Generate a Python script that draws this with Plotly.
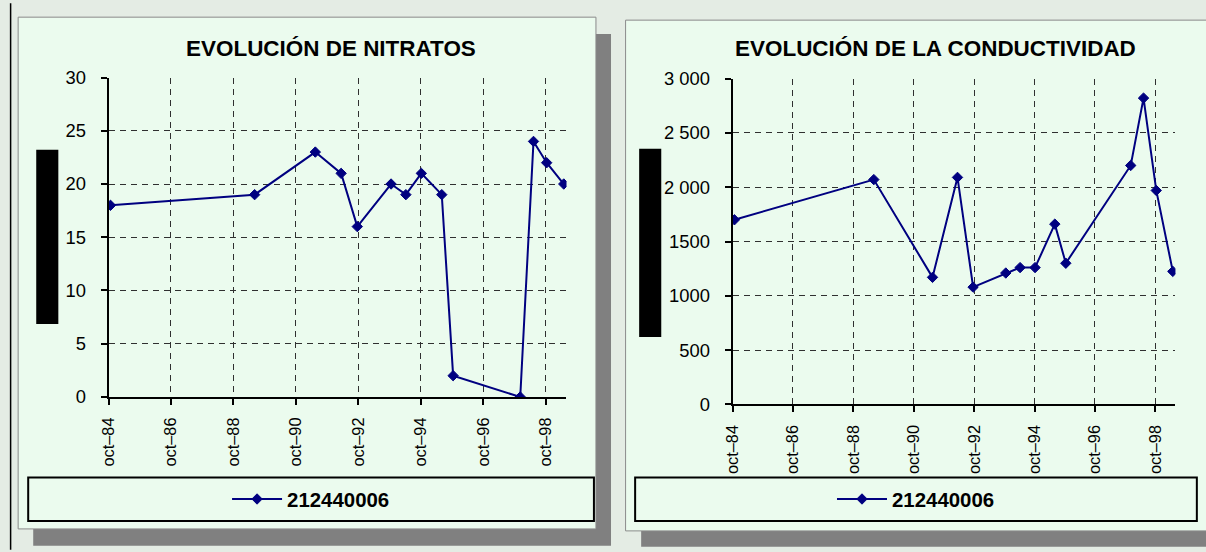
import plotly.graph_objects as go

W, H = 1206, 552

# Layout positions below are written in screen pixels of the final page view.
# The page adds an 8px body margin around the figure and the whole page view
# (figure + margins) is fitted back into W x H, so screen pixels are mapped to
# figure pixels before being turned into paper coordinates.
MARGIN = 8
SX = W / (W + 2 * MARGIN)
SY = H / (H + 2 * MARGIN)
FS = (SX + SY) / 2

# Sampling dates shared by both series (station 212440006)
fechas = ["1984-10-23", "1989-06-05", "1991-05-16", "1992-03-13", "1992-09-18",
          "1993-10-18", "1994-04-09", "1994-10-07", "1995-06-03", "1995-10-14",
          "1997-12-07", "1998-05-11", "1998-10-12", "1999-04-30"]
nitratos = [18, 19, 23, 21, 16, 20, 19, 21, 19, 2, 0, 24, 22, 20]
conductividad = [1700, 2070, 1170, 2090, 1080, 1210, 1260, 1260, 1660, 1300,
                 2200, 2820, 1970, 1225]
estacion = "212440006"

titulo_nitratos = "EVOLUCIÓN DE NITRATOS"
titulo_conductividad = "EVOLUCIÓN DE LA CONDUCTIVIDAD"

x_tickvals = ["1984-10-01", "1986-10-01", "1988-10-01", "1990-10-01",
              "1992-10-01", "1994-10-01", "1996-10-01", "1998-10-01"]
x_ticktext = ["oct–84", "oct–86", "oct–88", "oct–90",
              "oct–92", "oct–94", "oct–96", "oct–98"]
x_range = ["1984-10-01", "1999-06-01"]

y1_tickvals = [0, 5, 10, 15, 20, 25, 30]
y1_ticktext = ["0", "5", "10", "15", "20", "25", "30"]
y2_tickvals = [0, 500, 1000, 1500, 2000, 2500, 3000]
y2_ticktext = ["0", "500", "1000", "1500", "2 000", "2 500", "3 000"]

FONT = "Liberation Sans, Arial, sans-serif"
NAVY = "#000080"
OUTER_BG = "#e4ece4"
PANEL_BG = "#ebfbee"
SHADOW = "#808080"


def px(v):
    return (v / SX - MARGIN) / W


def py(v):
    return 1 - (v / SY - MARGIN) / H


def sz(v):
    return v / FS


def rect(x0, y0, x1, y1, fill, line_color=None, line_width=0):
    return dict(type="rect", xref="paper", yref="paper",
                x0=px(x0), x1=px(x1), y0=py(y1), y1=py(y0),
                fillcolor=fill, layer="below",
                line=dict(color=line_color or fill, width=line_width))


def line(x0, y0, x1, y1, color="black", width=1):
    return dict(type="line", xref="paper", yref="paper",
                x0=px(x0), x1=px(x1), y0=py(y0), y1=py(y1), layer="below",
                line=dict(color=color, width=width))


fig = go.Figure()

marker = dict(symbol="diamond", size=8, color=NAVY, line=dict(color=NAVY, width=1))
fig.add_trace(go.Scatter(x=fechas, y=nitratos, mode="lines+markers",
                         line=dict(color=NAVY, width=2), marker=marker,
                         name=estacion, xaxis="x", yaxis="y", legend="legend"))
fig.add_trace(go.Scatter(x=fechas, y=conductividad, mode="lines+markers",
                         line=dict(color=NAVY, width=2), marker=marker,
                         name=estacion, xaxis="x2", yaxis="y2", legend="legend2"))

grid = dict(showgrid=True, gridcolor="#303030", gridwidth=1, griddash="6px,5px")
xaxis_common = dict(
    type="date", range=x_range, tickmode="array",
    tickvals=x_tickvals, ticktext=x_ticktext, tickangle=-90,
    showline=True, linecolor="black", linewidth=2,
    ticks="outside", ticklen=6, tickwidth=1.5, tickcolor="black",
    ticklabelstandoff=6, zeroline=False, fixedrange=True,
    tickfont=dict(family=FONT, size=sz(16), color="black"), **grid,
)
yaxis_common = dict(
    showline=True, linecolor="black", linewidth=2,
    ticks="outside", ticklen=6, tickwidth=1.5, tickcolor="black",
    ticklabelstandoff=11, zeroline=False, fixedrange=True, tickmode="array",
    tickfont=dict(family=FONT, size=sz(18), color="black"), **grid,
)

shapes = [
    # outer frame line on the left
    line(8.5, 0, 8.5, H, "black", 1.5),
    # left panel: shadow, face, legend box, axis-title block
    rect(31, 31, 606, 548, SHADOW),
    rect(16, 14, 591, 531, PANEL_BG, "#8a8a8a", 1),
    rect(26, 479, 589, 523, PANEL_BG, "black", 2),
    rect(34, 148, 56, 324, "black"),
    # right panel
    rect(636, 33, 1240, 549, SHADOW),
    rect(620.5, 17, 1205, 533, PANEL_BG, "#8a8a8a", 1),
    rect(630, 479, 1189, 523, PANEL_BG, "black", 2),
    rect(634, 147, 656, 337, "black"),
]

annotations = [
    dict(text=titulo_nitratos, x=px(327), y=py(46), xref="paper", yref="paper",
         showarrow=False, xanchor="center", yanchor="middle",
         font=dict(family=FONT, size=sz(22), color="black", weight="bold")),
    dict(text=titulo_conductividad, x=px(928.6), y=py(46), xref="paper", yref="paper",
         showarrow=False, xanchor="center", yanchor="middle",
         font=dict(family=FONT, size=sz(22), color="black", weight="bold")),
]

legend_common = dict(orientation="h", xanchor="center", yanchor="middle",
                     bgcolor="rgba(0,0,0,0)", borderwidth=0, itemwidth=50,
                     font=dict(family=FONT, size=sz(20), color="black", weight="bold"))

fig.update_layout(
    width=W, height=H, autosize=False,
    margin=dict(l=0, r=0, t=0, b=0),
    paper_bgcolor=OUTER_BG, plot_bgcolor="rgba(0,0,0,0)",
    xaxis=dict(domain=[px(106), px(561.7)], anchor="y", **xaxis_common),
    yaxis=dict(domain=[py(397.7), py(75)], anchor="x", range=[0, 30],
               tickvals=y1_tickvals, ticktext=y1_ticktext, **yaxis_common),
    xaxis2=dict(domain=[px(727), px(1167.7)], anchor="y2", **xaxis_common),
    yaxis2=dict(domain=[py(405.3), py(76)], anchor="x2", range=[0, 3000],
                tickvals=y2_tickvals, ticktext=y2_ticktext, **yaxis_common),
    legend=dict(x=px(307.5), y=py(501), **legend_common),
    legend2=dict(x=px(909.5), y=py(501), **legend_common),
    shapes=shapes,
    annotations=annotations,
    showlegend=True,
)

fig.write_html("out.html")
